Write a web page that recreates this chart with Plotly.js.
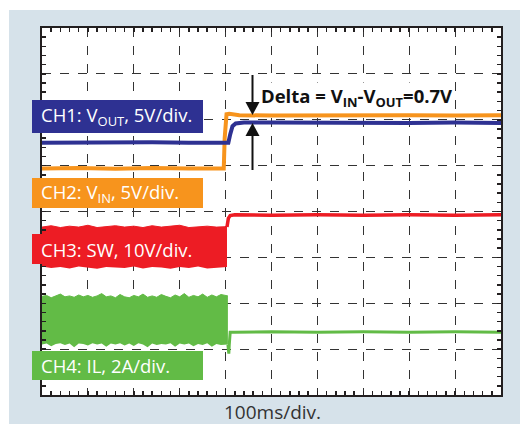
<!DOCTYPE html>
<html><head><meta charset="utf-8">
<script src="https://cdn.plot.ly/plotly-3.0.1.min.js"></script>
<style>html,body{margin:0;padding:0;background:#fff}#c{width:520px;height:424px}</style>
</head><body><div id="c"></div>
<script>
// time in divisions (100ms/div), amplitude in divisions
const vinX  = [0, 0.8, 1.6, 2.4, 3.2, 3.96, 3.98, 4.02, 4.08, 4.3, 5, 6, 7, 8, 9, 10];
const vinY  = [4.94, 4.95, 4.93, 4.95, 4.94, 4.94, 5.6, 6.12, 6.13, 6.10, 6.09, 6.10, 6.09, 6.10, 6.09, 6.10];
const voutX = [0, 0.8, 1.6, 2.4, 3.2, 4.06, 4.10, 4.15, 4.22, 4.4, 5, 6, 7, 8, 9, 10];
const voutY = [5.50, 5.51, 5.50, 5.51, 5.50, 5.50, 5.68, 5.86, 5.92, 5.94, 5.94, 5.93, 5.94, 5.93, 5.94, 5.93];
const swBandX  = [0, 0.2, 0.4, 0.6, 0.8, 1.0, 1.2, 1.4, 1.6, 1.8, 2.0, 2.2, 2.4, 2.6, 2.8, 3.0, 3.2, 3.4, 3.6, 3.8, 4.03];
const swBandLo = [2.80, 2.77, 2.79, 2.76, 2.80, 2.78, 2.75, 2.79, 2.78, 2.77, 2.80, 2.76, 2.79, 2.78, 2.75, 2.79, 2.77, 2.80, 2.76, 2.78, 2.79];
const swBandHi = [3.66, 3.69, 3.65, 3.68, 3.66, 3.70, 3.65, 3.67, 3.69, 3.66, 3.68, 3.65, 3.69, 3.66, 3.68, 3.70, 3.65, 3.67, 3.68, 3.66, 3.67];
const swAfterX = [4.03, 4.06, 4.10, 4.2, 5, 6, 7, 8, 9, 10];
const swAfterY = [3.66, 3.85, 3.91, 3.93, 3.92, 3.93, 3.92, 3.93, 3.92, 3.93];
const ilBandX  = [0, 0.1, 0.2, 0.3, 0.4, 0.5, 0.6, 0.7, 0.8, 0.9, 1.0, 1.1, 1.2, 1.3, 1.4, 1.5, 1.6, 1.7, 1.8, 1.9, 2.0, 2.1, 2.2, 2.3, 2.4, 2.5, 2.6, 2.7, 2.8, 2.9, 3.0, 3.1, 3.2, 3.3, 3.4, 3.5, 3.6, 3.7, 3.8, 3.9, 4.05];
const ilBandLo = [1.10, 1.12, 1.06, 1.11, 1.13, 1.09, 1.12, 1.04, 1.12, 1.11, 1.08, 1.13, 1.10, 1.12, 1.05, 1.12, 1.10, 1.13, 1.08, 1.12, 1.07, 1.13, 1.10, 1.04, 1.12, 1.09, 1.11, 1.10, 1.13, 1.05, 1.12, 1.10, 1.12, 1.06, 1.11, 1.09, 1.13, 1.05, 1.11, 1.09, 1.10];
const ilBandHi = [2.15, 2.17, 2.12, 2.16, 2.20, 2.14, 2.16, 2.13, 2.18, 2.14, 2.17, 2.13, 2.16, 2.21, 2.14, 2.16, 2.12, 2.19, 2.14, 2.12, 2.17, 2.14, 2.20, 2.13, 2.16, 2.13, 2.19, 2.15, 2.12, 2.18, 2.14, 2.21, 2.13, 2.17, 2.14, 2.20, 2.13, 2.18, 2.14, 2.19, 2.16];
const ilAfterX = [4.05, 4.07, 4.08, 4.10, 4.2, 5, 6, 7, 8, 9, 10];
const ilAfterY = [1.10, 0.90, 1.10, 1.37, 1.37, 1.38, 1.37, 1.38, 1.37, 1.38, 1.37];
const labels = ['CH1: V<sub>OUT</sub>, 5V/div.', 'CH2: V<sub>IN</sub>, 5V/div.', 'CH3: SW, 10V/div.', 'CH4: IL, 2A/div.'];
const deltaText = '<b>Delta = V<sub>IN</sub>-V<sub>OUT</sub>=0.7V</b>';
const timeText = '100ms/div.';

const NAVY='#2e3192', ORANGE='#f7941d', RED='#ed1c24', GREEN='#62bb46', PANEL='#d6e2ea';
const L=42, R=501, T=28, B=395;
const xp = p => (p-L)/(R-L);
const yp = p => (B-p)/(B-T);

const traces = [
  {x: swBandX, y: swBandLo, mode:'lines', line:{width:0, color:RED}, hoverinfo:'skip'},
  {x: swBandX, y: swBandHi, mode:'lines', line:{width:1, color:RED}, fill:'tonexty', fillcolor:RED, hoverinfo:'skip'},
  {x: swAfterX, y: swAfterY, mode:'lines', line:{width:3.5, color:RED}},
  {x: ilBandX, y: ilBandLo, mode:'lines', line:{width:0, color:GREEN}, hoverinfo:'skip'},
  {x: ilBandX, y: ilBandHi, mode:'lines', line:{width:1, color:GREEN}, fill:'tonexty', fillcolor:GREEN, hoverinfo:'skip'},
  {x: ilAfterX, y: ilAfterY, mode:'lines', line:{width:3, color:GREEN}},
  {x: vinX, y: vinY, mode:'lines', line:{width:4, color:ORANGE}},
  {x: voutX, y: voutY, mode:'lines', line:{width:4, color:NAVY}}
];

const boxes = [
  [32, 203, 100, 133, NAVY],
  [32, 203, 178, 208, ORANGE],
  [32, 227, 234, 264, RED],
  [32, 203, 351, 380, GREEN]
];
const shapes = [
  {type:'rect', xref:'paper', yref:'paper', x0:xp(-60), x1:xp(580), y0:yp(10), y1:yp(-60), fillcolor:'#ffffff', line:{width:0}, layer:'below'},
  {type:'rect', xref:'paper', yref:'paper', x0:xp(-60), x1:xp(9), y0:yp(10), y1:yp(500), fillcolor:'#ffffff', line:{width:0}, layer:'below'}
];
boxes.forEach(b => shapes.push({type:'rect', xref:'paper', yref:'paper', x0:xp(b[0]), x1:xp(b[1]), y0:yp(b[3]), y1:yp(b[2]), fillcolor:b[4], line:{width:0}, layer:'above'}));
// arrows
const AX = xp(252.5);
shapes.push({type:'line', xref:'paper', yref:'paper', x0:AX, x1:AX, y0:yp(75), y1:yp(104), line:{color:'#111', width:2}, layer:'above'});
shapes.push({type:'line', xref:'paper', yref:'paper', x0:AX, x1:AX, y0:yp(134), y1:yp(170), line:{color:'#111', width:2}, layer:'above'});
const tri = (tip, base) => {
  const a = xp(252.5), l = xp(245.5), r = xp(259.5);
  return `M ${l} ${yp(base)} L ${r} ${yp(base)} L ${a} ${yp(tip)} Z`;
};
shapes.push({type:'path', xref:'paper', yref:'paper', path:tri(115, 102), fillcolor:'#111', line:{width:0}, layer:'above'});
shapes.push({type:'path', xref:'paper', yref:'paper', path:tri(123, 136), fillcolor:'#111', line:{width:0}, layer:'above'});

const labelY = [116.5, 193, 249, 365.5];
const annotations = labels.map((t,i) => ({
  text:t, xref:'paper', yref:'paper', x:xp(39), y:yp(labelY[i]), xanchor:'left', yanchor:'middle',
  showarrow:false, font:{family:'Open Sans', size:18.5, color:'#ffffff'}
}));
annotations.push({text:deltaText, xref:'paper', yref:'paper', x:xp(260), y:yp(97), xanchor:'left', yanchor:'middle',
  showarrow:false, bgcolor:'#ffffff', borderpad:0, font:{family:'Open Sans', size:18.5, color:'#111'}});
annotations.push({text:timeText, xref:'paper', yref:'paper', x:xp(272), y:yp(411.5), xanchor:'center', yanchor:'middle',
  showarrow:false, font:{family:'Open Sans', size:19, color:'#333'}});

const axisCommon = {
  showline:true, linewidth:2, linecolor:'#231f20', mirror:'allticks',
  showgrid:true, gridcolor:'#333', gridwidth:1, griddash:'dash',
  zeroline:false, showticklabels:false, ticks:'inside', ticklen:4, tickwidth:1.5, tickcolor:'#231f20',
  dtick:1, tick0:0, fixedrange:true,
  minor:{ticks:'inside', ticklen:4, tickwidth:1.5, tickcolor:'#231f20', dtick:0.2, tick0:0, showgrid:false}
};
const layout = {
  width:520, height:424,
  margin:{l:L, r:520-R, t:T, b:424-B, pad:0},
  paper_bgcolor:PANEL, plot_bgcolor:'#ffffff',
  showlegend:false,
  xaxis:Object.assign({}, axisCommon, {range:[0,10]}),
  yaxis:Object.assign({}, axisCommon, {range:[0,8]}),
  shapes:shapes, annotations:annotations
};
Plotly.newPlot('c', traces, layout, {staticPlot:true, displayModeBar:false});
</script></body></html>
